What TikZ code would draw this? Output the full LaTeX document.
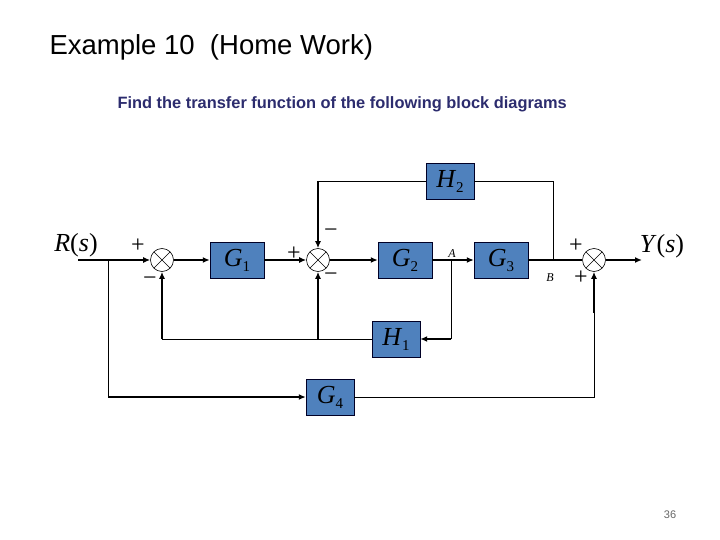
\documentclass[tikz,border=0pt]{standalone}
\usepackage{fontspec}
\setmainfont{Liberation Serif}
\setsansfont{Liberation Sans}
\usetikzlibrary{arrows.meta}
\definecolor{blockblue}{RGB}{79,129,189}
\definecolor{navytext}{RGB}{44,44,110}
% block label with a big, low subscript
\newcommand{\blk}[2]{\textit{#1}\raisebox{-5pt}{\fontsize{15}{15}\selectfont #2}}

\begin{document}
\begin{tikzpicture}[x=1pt,y=-1pt,
    block/.style={draw=black!85!blue,fill=blockblue,minimum width=54pt,
      minimum height=36pt,inner sep=0pt,font=\fontsize{26}{26}\selectfont},
    sblock/.style={block,minimum width=48pt},
    sumj/.style={draw,circle,fill=white,minimum size=23pt,inner sep=0pt,
      line width=0.6pt,
      path picture={\draw[line width=0.6pt]
        (path picture bounding box.north west)--(path picture bounding box.south east)
        (path picture bounding box.north east)--(path picture bounding box.south west);}},
    sig/.style={font=\fontsize{24}{24}\selectfont,inner sep=0pt},
    pt/.style={font=\fontsize{12}{12}\selectfont\itshape,inner sep=0pt},
    thk/.style={line width=1.6pt},
    thn/.style={line width=0.8pt},
    >={Latex[length=7pt,width=6pt]}]
  \useasboundingbox (0,0) rectangle (720,540);

  \node[anchor=west,font=\sffamily\fontsize{27.5}{27.5}\selectfont] (title) at (46,47)
    {Example 10\ \ (Home Work)};
  \node[anchor=west,text=navytext,font=\sffamily\bfseries\fontsize{16.4}{16.4}\selectfont] (task) at (114,104)
    {Find the transfer function of the following block diagrams};
  \node[text=black!60,font=\sffamily\fontsize{11}{11}\selectfont] (page) at (670,515) {36};

  % blocks and summing points
  \node[sumj] (sum1) at (162,260) {};
  \node[block] (g1) at (237,260) {\blk{G}{1}};
  \node[sumj] (sum2) at (318,260) {};
  \node[block] (g2) at (405,260) {\blk{G}{2}};
  \node[block] (g3) at (501,260) {\blk{G}{3}};
  \node[sumj] (sum3) at (594,260) {};
  \node[sblock] (h2) at (450,181) {\blk{H}{2}};
  \node[sblock] (h1) at (396,339) {\blk{H}{1}};
  \node[sblock] (g4) at (330,397) {\blk{G}{4}};

  \coordinate (in) at (78,260);
  \coordinate (br) at (108,260);
  \coordinate (pa) at (451,260);
  \coordinate (pb) at (553,260);
  \coordinate (out) at (642,260);
  \coordinate (up3) at (594,313);

  \node[font=\fontsize{26}{26}\selectfont] (rs) at (76,245) {\textit{R}(\textit{s})};
  \node[font=\fontsize{26}{26}\selectfont] (ys) at (662,246) {\textit{Y}(\textit{s})};
  \node[pt] (la) at (452,254) {A};
  \node[pt] (lb) at (550,278) {B};

  \node[sig] (s1p) at (138,246) {+};
  \node[sig] (s1m) at (150,281) {−};
  \node[sig] (s2p) at (294,254) {+};
  \node[sig] (s2t) at (331,233) {−};
  \node[sig] (s2b) at (331,277) {−};
  \node[sig] (s3p) at (576,246) {+};
  \node[sig] (s3b) at (581,278) {+};

  % forward path
  \draw[thk,->] (in) -- (sum1);
  \draw[thk,->] (sum1) -- (g1);
  \draw[thk,->] (g1) -- (sum2);
  \draw[thk,->] (sum2) -- (g2);
  \draw[thk,->] (g2) -- (g3);
  \draw[thk] (g3) -- (sum3);
  \draw[thk,->] (sum3) -- (out);

  % H2 loop
  \draw[thn] (pb) |- (h2);
  \draw[thn] (h2) -- (sum2 |- h2);
  \draw[thk,->] (sum2 |- h2) -- (sum2);

  % H1 loop
  \draw[thn] (pa) -- (pa |- h1);
  \draw[thk,->] (pa |- h1) -- (h1);
  \draw[thn] (h1) -- (sum1 |- h1);
  \draw[thk,->] (sum1 |- h1) -- (sum1);
  \draw[thk,->] (sum2 |- h1) -- (sum2);

  % G4 path
  \draw[thn] (br) -- (br |- g4);
  \draw[thk,->] (br |- g4) -- (g4);
  \draw[thn] (g4) -| (up3);
  \draw[thk,->] (up3) -- (sum3);
\end{tikzpicture}
\end{document}
